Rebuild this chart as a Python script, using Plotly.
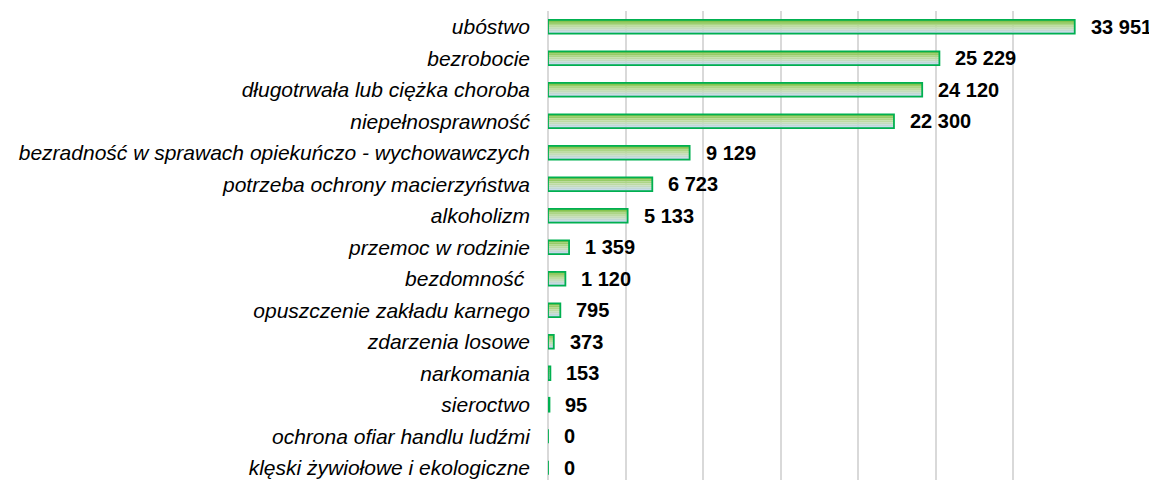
import plotly.graph_objects as go

categories = ["ubóstwo", "bezrobocie", "długotrwała lub ciężka choroba", "niepełnosprawność",
              "bezradność w sprawach opiekuńczo - wychowawczych", "potrzeba ochrony macierzyństwa",
              "alkoholizm", "przemoc w rodzinie", "bezdomność ", "opuszczenie zakładu karnego",
              "zdarzenia losowe", "narkomania", "sieroctwo", "ochrona ofiar handlu ludźmi",
              "klęski żywiołowe i ekologiczne"]
values = [33951, 25229, 24120, 22300, 9129, 6723, 5133, 1359, 1120, 795, 373, 153, 95, 0, 0]
value_labels = ["33 951", "25 229", "24 120", "22 300", "9 129", "6 723", "5 133", "1 359",
                "1 120", "795", "373", "153", "95", "0", "0"]

# gradient bands (top -> bottom)
grad_colors = ["#80c248", "#96cb66", "#acd586", "#bcdaa3", "#c3dbbd", "#c1d8d4", "#bad2e8"]
bar_w = 0.44
n = len(grad_colors)
band = bar_w / n

fig = go.Figure()
for i, c in enumerate(grad_colors):
    fig.add_trace(go.Bar(
        y=categories, x=values, orientation="h",
        width=band * 1.05, offset=-bar_w / 2 + i * band,
        marker=dict(color=c, line=dict(width=0)),
        hoverinfo="skip", showlegend=False,
    ))
fig.add_trace(go.Bar(
    y=categories, x=values, orientation="h",
    width=bar_w, offset=-bar_w / 2,
    marker=dict(color="rgba(0,0,0,0)", line=dict(color="#00b050", width=1.8)),
    showlegend=False,
))

for cat, v, lab in zip(categories, values, value_labels):
    fig.add_annotation(x=v, y=cat, text=lab, showarrow=False, xanchor="left",
                       xshift=14, font=dict(family="Liberation Sans, Arial", size=20,
                                            color="#000000", weight="bold"))

fig.update_layout(
    width=1149, height=472,
    barmode="overlay",
    plot_bgcolor="white", paper_bgcolor="white",
    margin=dict(l=540, r=66, t=3, b=0, autoexpand=False),
    font=dict(family="Liberation Sans, Arial", size=16, color="#000000"),
)
fig.update_xaxes(range=[0, 35000], dtick=5000, showticklabels=False, showgrid=True,
                 gridcolor="#d9d9d9", gridwidth=1.5, zeroline=True, zerolinecolor="#d9d9d9",
                 zerolinewidth=1.5, showline=False)
fig.update_yaxes(range=[14.39, -0.5], categoryorder="array", categoryarray=categories,
                 showgrid=False, ticklabelstandoff=17,
                 tickfont=dict(family="Liberation Sans, Arial", size=21, style="italic",
                               color="#000000"))

fig.write_html("out.html")
